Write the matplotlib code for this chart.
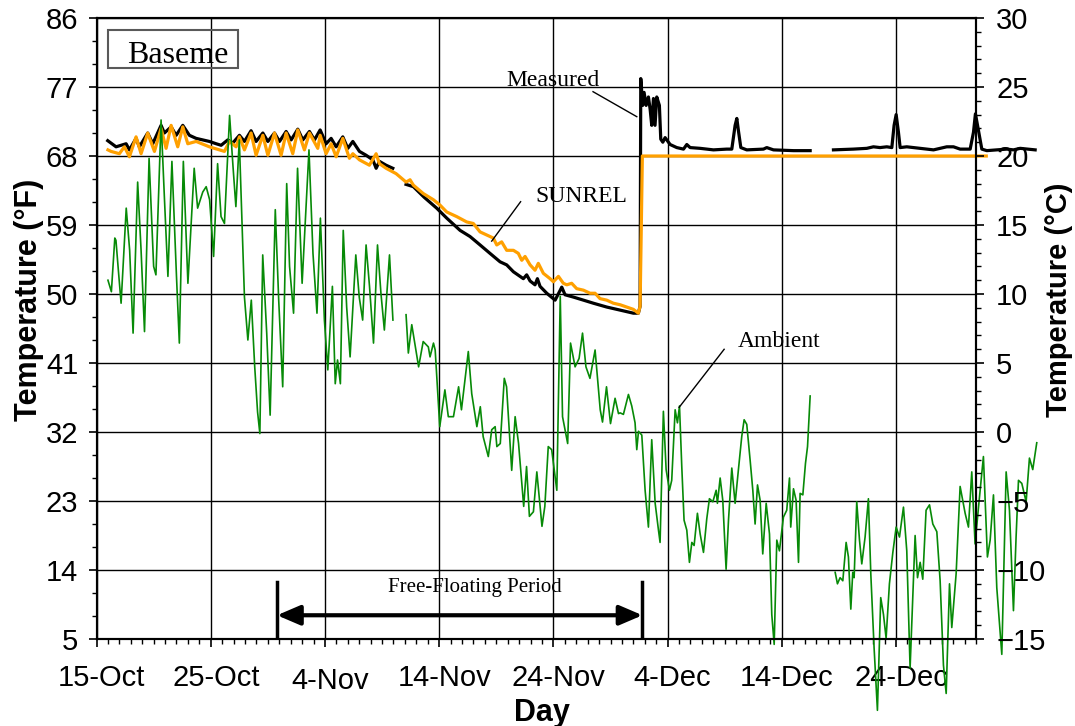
import numpy as np
import matplotlib.pyplot as plt
from matplotlib.ticker import FixedLocator, MultipleLocator
from matplotlib.patches import Rectangle
from matplotlib.transforms import ScaledTranslation

plt.rcParams['font.family'] = 'Liberation Sans'

# x = days since 15-Oct, y = temperature in F
amb_day_1 = [1.0, 1.3, 1.6, 1.7, 1.9, 2.15, 2.6, 2.9, 3.2, 3.6, 3.9, 4.2, 4.6, 5.0, 5.2, 5.65, 5.95, 6.25,
             6.6, 7.0, 7.25, 7.6, 8.0, 8.55, 8.85, 9.3, 9.6, 9.9, 10.25, 10.6, 10.9, 11.2, 11.65, 11.95,
             12.2, 12.5, 12.95, 13.25, 13.55, 13.85, 14.1, 14.3, 14.55, 14.9, 15.2, 15.65, 15.95, 16.3,
             16.65, 16.9, 17.25, 17.6, 18.0, 18.6, 18.95, 19.3, 19.6, 19.95, 20.25, 20.65, 20.9, 21.1,
             21.35, 21.6, 21.9, 22.2, 22.7, 23.0, 23.3, 23.6, 23.9, 24.25, 24.6, 24.9, 25.2, 25.65, 25.95]
amb_F_1 = [51.8, 50.3, 57.3, 57.0, 53.3, 48.8, 61.2, 55.7, 44.9, 64.6, 55.7, 45.1, 67.7, 53.6, 52.5, 72.7,
           62.3, 52.3, 67.3, 52.3, 43.6, 67.3, 51.4, 66.4, 61.2, 63.3, 64.0, 62.3, 54.9, 67.0, 60.1, 59.2,
           73.3, 66.6, 61.4, 70.1, 49.6, 44.0, 49.2, 40.5, 34.6, 31.8, 55.1, 44.9, 34.2, 61.0, 49.2, 37.9,
           64.4, 53.6, 47.5, 66.4, 51.4, 68.8, 55.3, 47.5, 59.9, 46.6, 40.1, 51.0, 38.3, 41.4, 38.3, 58.3,
           48.3, 41.8, 55.1, 49.6, 46.6, 56.4, 51.0, 43.6, 56.4, 50.1, 45.3, 55.1, 46.6]

amb_day_2 = [27.1, 27.3, 27.6, 28.2, 28.6, 29.05, 29.2, 29.5, 29.65, 30.05, 30.5, 30.8, 31.25, 31.7, 31.95,
             32.55, 32.85, 33.3, 33.6, 33.85, 34.3, 34.6, 34.9, 35.05, 35.35, 35.7, 35.9, 36.35, 36.65,
             36.95, 37.4, 37.65, 37.9, 38.25, 38.55, 39.0, 39.25, 39.55, 39.85, 40.3, 40.6, 40.8, 41.25,
             41.5, 41.9, 42.25, 42.55, 42.85, 43.2, 43.65, 44.1, 44.3, 44.65, 45.0, 45.4, 45.7, 45.84,
             46.13, 46.57, 46.86, 47.15, 47.3, 47.45, 47.74, 48.03, 48.32, 48.61, 48.91, 49.2, 49.34,
             49.63, 49.87, 50.16, 50.36, 50.66, 50.86, 51.04, 51.24, 51.44, 51.68, 51.91, 52.12, 52.32,
             52.61, 52.85, 53.14, 53.43, 53.66, 53.96, 54.25, 54.36, 54.6, 54.83, 55.12, 55.33, 55.62,
             55.91, 56.2, 56.49, 56.7, 56.93, 57.22, 57.46, 57.66, 57.87, 58.1, 58.33, 58.63, 58.92,
             59.12, 59.33, 59.56, 59.79, 60.14, 60.43, 60.67, 60.78, 61.02, 61.25, 61.46, 61.6, 61.84,
             62.07, 62.25, 62.48]
amb_F_2 = [47.3, 42.3, 46.0, 40.5, 43.8, 43.1, 41.8, 43.6, 42.7, 32.7, 37.5, 34.0, 34.0, 37.9, 34.9,
           42.5, 37.0, 32.7, 35.3, 31.4, 28.8, 32.3, 32.7, 30.1, 30.5, 39.0, 37.9, 27.0, 34.0,
           30.5, 22.3, 27.5, 21.0, 21.6, 26.8, 19.7, 22.3, 30.1, 29.7, 24.4, 49.7, 34.0, 30.5,
           43.6, 40.5, 41.6, 44.9, 40.5, 39.0, 42.7, 34.9, 33.3, 37.9, 33.1, 36.4, 34.4, 34.5,
           34.3, 36.9, 35.4, 33.2, 29.7, 32.1, 31.6, 24.4, 19.6, 31.0, 22.7, 19.2, 17.6,
           34.7, 27.1, 24.4, 25.7, 34.9, 33.2, 35.4, 27.5, 20.5, 19.2, 15.0, 17.6, 17.2,
           21.4, 18.7, 16.3, 20.7, 23.3, 22.9, 24.4, 22.7, 26.0, 23.1, 14.1, 20.5, 27.3,
           22.7, 27.1, 31.4, 33.6, 33.0, 28.4, 24.4, 20.0, 25.1, 23.1, 16.1, 22.7, 18.7,
           8.2, 4.3, 17.9, 16.5, 20.9, 21.8, 26.0, 19.6, 24.6, 23.1, 15.0, 24.0, 23.8,
           27.9, 30.1, 36.7]

amb_day_3 = [64.67, 64.87, 65.1, 65.34, 65.63, 65.83, 66.04, 66.21, 66.33, 66.56, 66.8, 67.0, 67.29,
             67.58, 67.79, 68.08, 68.37, 68.66, 68.9, 69.13, 69.42, 69.72, 70.01, 70.3, 70.65, 70.94,
             71.23, 71.67, 71.88, 72.11, 72.34, 72.63, 72.93, 73.22, 73.57, 73.86, 74.15, 74.39, 74.68,
             74.88, 75.26, 75.61, 76.05, 76.34, 76.63, 76.92, 77.22, 77.65, 78.0, 78.24, 78.53, 78.82,
             79.26, 79.64, 79.93, 80.28, 80.51, 80.72, 81.01, 81.39, 81.68, 81.97, 82.32]
amb_F_3 = [13.7, 12.2, 13.0, 12.6, 17.6, 15.7, 8.9, 13.7, 13.0, 22.9, 17.9, 14.8, 18.3,
           23.3, 13.5, 3.8, -4.3, 10.4, 8.2, 5.1, 12.2, 16.3, 19.6, 18.3, 22.2, 16.5,
           1.2, 18.5, 13.0, 15.0, 12.8, 21.8, 22.5, 20.0, 19.0, 12.6, 1.6, -2.1, 12.2,
           6.5, 13.5, 24.9, 21.4, 19.6, 26.8, 17.4, 22.2, 28.8, 15.7, 17.9, 23.8, 11.7,
           3.0, 26.8, 21.8, 8.7, 18.3, 25.7, 25.3, 22.9, 28.6, 27.1, 30.6]

meas_day_1 = [0.98, 1.71, 2.59, 2.88, 3.46, 3.75, 4.48, 4.92, 5.65, 5.94, 6.53, 6.97, 7.55, 8.13, 8.72,
              9.88, 10.47, 10.91, 11.49, 11.93, 12.51, 12.95, 13.53, 13.97, 14.56, 15.0, 15.58, 16.02,
              16.6, 17.04, 17.62, 18.06, 18.64, 19.08, 19.58, 20.1, 20.54, 20.98, 21.56, 22.0, 22.44,
              23.02, 23.6, 24.19, 24.48, 24.77, 25.35, 25.94]
meas_F_1 = [70.0, 69.2, 69.6, 68.8, 70.3, 69.2, 71.0, 69.6, 72.0, 71.0, 71.8, 70.7, 72.0, 70.7, 70.3,
            69.9, 69.6, 69.4, 70.1, 69.7, 70.7, 69.9, 71.3, 69.9, 71.0, 69.9, 71.0, 69.9,
            71.2, 70.1, 71.5, 70.1, 71.2, 70.1, 71.4, 69.6, 70.3, 69.2, 70.5, 69.0, 69.9,
            68.6, 68.1, 67.5, 66.4, 67.3, 66.8, 66.4]

meas_day_2 = [27.1, 27.74, 28.7, 29.78, 30.66, 31.83, 32.7, 33.58, 34.45, 35.33, 35.91, 36.5, 37.08,
              37.37, 37.66, 37.96, 38.39, 38.6, 38.83, 39.42, 40.15, 40.6, 40.73, 41.02, 41.75, 42.63,
              43.5, 44.67, 45.84, 47.0, 47.44, 47.59, 47.65, 47.82, 47.94, 48.12, 48.32, 48.47, 48.61,
              48.76, 48.9, 49.05, 49.28, 49.4, 49.58, 49.78, 50.22, 50.8, 51.39, 51.68, 51.97, 52.85,
              54.01, 55.18, 55.62, 55.91, 56.06, 56.2, 56.41, 56.93, 58.39, 58.68, 59.27, 61.02, 62.48]
meas_F_2 = [64.3, 64.0, 62.6, 61.2, 59.9, 58.3, 57.5, 56.4, 55.3, 54.2, 53.8, 52.9, 52.3,
            52.0, 52.5, 51.7, 51.2, 52.0, 51.0, 50.1, 49.2, 50.5, 50.9, 49.9, 49.6, 49.2,
            48.8, 48.3, 47.9, 47.5, 47.5, 48.4, 78.1, 74.6, 76.3, 74.6, 75.7, 74.1, 72.0,
            75.5, 72.0, 75.7, 74.6, 70.2, 69.8, 70.4, 69.5, 69.1, 68.9, 69.5, 69.1, 69.0,
            68.8, 68.9, 68.9, 72.0, 72.9, 71.3, 69.1, 68.8, 68.9, 69.1, 68.8, 68.7, 68.7]

meas_day_3 = [64.52, 66.27, 67.44, 68.02, 68.6, 69.19, 69.63, 69.83, 70.01, 70.21, 70.36, 70.94, 72.11,
              73.28, 74.44, 75.03, 75.61, 76.49, 76.78, 76.95, 77.22, 77.51, 77.95, 78.82, 79.7, 80.28,
              80.87, 82.18]
meas_F_3 = [68.8, 68.9, 69.0, 69.2, 69.1, 69.2, 69.1, 72.0, 73.4, 71.1, 69.1, 69.2, 69.0,
            68.8, 69.2, 69.2, 68.9, 68.9, 71.1, 73.5, 71.3, 68.9, 68.7, 68.8, 68.9, 68.8,
            69.0, 68.8]

sun_day = [1.0, 1.27, 2.0, 2.44, 2.88, 3.46, 3.9, 4.48, 5.07, 5.65, 6.09, 6.53, 7.11, 7.55, 7.99, 8.72,
           9.88, 10.76, 11.2, 11.64, 12.22, 12.51, 12.95, 13.53, 13.97, 14.56, 15.0, 15.58, 16.16, 16.6,
           17.18, 17.62, 18.2, 18.64, 19.37, 19.58, 20.1, 20.54, 20.98, 21.56, 22.14, 22.44, 23.02,
           23.89, 24.48, 24.77, 25.35, 26.23, 27.1, 27.45, 27.74, 28.61, 29.49, 30.07, 30.66, 31.53,
           32.41, 32.99, 33.58, 34.16, 34.74, 35.04, 35.47, 35.91, 36.5, 36.93, 37.23, 37.52, 37.96,
           38.39, 38.68, 39.12, 39.71, 40.0, 40.44, 40.87, 41.17, 41.6, 42.04, 42.63, 43.21, 43.65,
           44.08, 44.67, 45.25, 45.84, 46.42, 47.0, 47.44, 47.59, 47.79, 77.9]
sun_F = [68.8, 68.6, 68.3, 69.2, 67.9, 70.5, 68.3, 71.0, 68.6, 71.6, 69.0, 72.0, 69.2, 71.8, 69.6, 69.9,
         69.2, 68.8, 68.6, 69.9, 69.2, 70.5, 68.8, 71.0, 68.1, 70.7, 68.1, 71.0, 68.1, 71.0,
         68.3, 71.4, 68.8, 71.0, 69.0, 70.7, 68.3, 69.6, 67.9, 70.3, 67.7, 68.3, 67.5,
         66.8, 68.3, 67.0, 66.4, 65.7, 64.6, 64.9, 64.2, 63.1, 62.3, 61.6, 60.7, 60.1,
         59.4, 59.2, 58.1, 57.7, 57.3, 56.4, 56.8, 55.7, 55.7, 55.3, 54.4, 54.9, 53.8,
         53.1, 54.0, 52.7, 52.0, 51.6, 52.3, 51.4, 51.2, 51.4, 50.7, 50.5, 50.1, 50.1,
         49.4, 49.2, 48.8, 48.6, 48.3, 48.0, 47.5, 48.4, 68.0, 68.0]

xtick_pos = [0, 10, 20, 30, 40, 50, 60, 70]
xtick_labels = ['15-Oct', '25-Oct', '4-Nov', '14-Nov', '24-Nov', '4-Dec', '14-Dec', '24-Dec']

fig = plt.figure(figsize=(10.75, 7.26), dpi=100)
ax = fig.add_axes([0.0898, 0.1198, 0.8181, 0.8554])

for d, t in [(meas_day_1, meas_F_1), (meas_day_2, meas_F_2), (meas_day_3, meas_F_3)]:
    ax.plot(d, t, color='black', lw=2.3, clip_on=False, zorder=3)
ax.plot(sun_day, sun_F, color='#ffa000', lw=2.3, clip_on=False, zorder=4)
for d, t in [(amb_day_1, amb_F_1), (amb_day_2, amb_F_2), (amb_day_3, amb_F_3)]:
    ax.plot(d, t, color='#078a07', lw=1.2, clip_on=False, zorder=5)

ax.set_xlim(0, 77)
ax.set_ylim(5, 86)
ax.set_xticks(xtick_pos)
ax.set_xticklabels(xtick_labels)
ax.xaxis.set_minor_locator(MultipleLocator(1))
ax.set_yticks(np.arange(5, 87, 9))
ax.yaxis.set_minor_locator(FixedLocator(np.arange(5, 87, 3)))
ax.grid(True, which='major', color='black', lw=1.0, zorder=1)
ax.set_axisbelow(True)
ax.tick_params(axis='both', which='major', direction='out', length=5.5, width=1.2, labelsize=21)
ax.tick_params(axis='both', which='minor', direction='out', length=3.6, width=1.0)
ax.tick_params(axis='x', which='major', pad=12.5)
ax.tick_params(axis='y', which='major', pad=7.5)
for s in ax.spines.values():
    s.set_linewidth(1.5)

for i, lab in enumerate(ax.get_xticklabels()):
    dy = -3 if i == 2 else 0
    lab.set_transform(lab.get_transform() + ScaledTranslation(0.05, dy / 100, fig.dpi_scale_trans))

ax.set_xlabel('Day', fontsize=22, fontweight='bold')
ax.xaxis.set_label_coords(0.5066, -0.095)
ax.set_ylabel('Temperature (°F)', fontsize=22, fontweight='bold')
ax.yaxis.set_label_coords(-0.0597, 0.546)

ax2 = ax.twinx()
ax2.set_ylim(-15, 30)
ax2.set_yticks(np.arange(-15, 31, 5))
ax2.yaxis.set_minor_locator(MultipleLocator(1))
ax2.tick_params(which='major', direction='out', length=5.5, width=1.2, labelsize=21, pad=9)
ax2.tick_params(which='minor', direction='out', length=3.6, width=1.0)
for s in ax2.spines.values():
    s.set_linewidth(1.5)
ax2.set_ylabel('Temperature (°C)', fontsize=21, fontweight='bold', rotation=90)
ax2.yaxis.set_label_coords(1.079, 0.546)

serif = 'Liberation Serif'
ax.add_patch(Rectangle((0.98, 79.5), 11.42, 4.9, fill=False, edgecolor='0.35', lw=1.5, zorder=6))
ax.text(7.1, 80.1, 'Baseme', fontsize=23, family=serif, ha='center', va='baseline', zorder=6)

ax.text(35.9, 77.1, 'Measured', fontsize=17, family=serif, va='baseline')
ax.plot([43.47, 47.3], [76.39, 73.13], color='black', lw=1.0)
ax.text(38.4, 62.0, 'SUNREL', fontsize=17, family=serif, va='baseline')
ax.plot([37.13, 34.6], [62.04, 56.9], color='black', lw=1.0, zorder=6)
ax.text(56.1, 43.1, 'Ambient', fontsize=17, family=serif, va='baseline')
ax.plot([54.95, 51.01], [42.79, 35.22], color='black', lw=1.0, zorder=6)

ax.text(33.1, 11.1, 'Free-Floating Period', fontsize=15, family=serif, ha='center', va='baseline')
ax.annotate('', xy=(15.8, 8.1), xytext=(47.8, 8.1),
            arrowprops=dict(arrowstyle='<|-|>,head_length=0.7,head_width=0.3', lw=3,
                            color='black', shrinkA=0, shrinkB=0, mutation_scale=20))
ax.plot([15.8, 15.8], [5, 12.4], color='black', lw=2.5)
ax.plot([47.8, 47.8], [5, 12.4], color='black', lw=2.5)

fig.savefig('out.png', dpi=100)
